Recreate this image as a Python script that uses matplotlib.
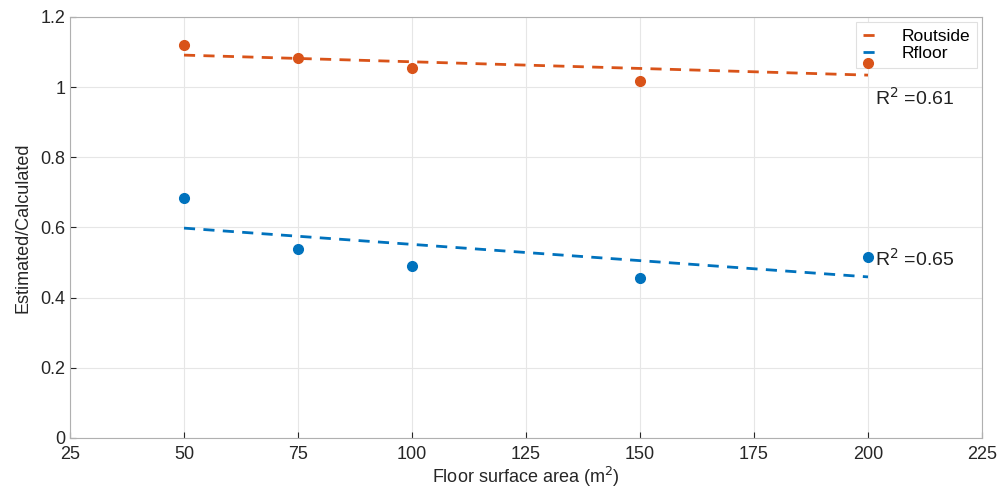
import matplotlib
matplotlib.use('Agg')
import matplotlib.pyplot as plt
import numpy as np

# Data
area = [50, 75, 100, 150, 200]
r_outside = [1.12, 1.083, 1.054, 1.017, 1.068]
r_floor = [0.684, 0.538, 0.490, 0.456, 0.516]
fit_x = [50, 200]
fit_outside = [1.091, 1.034]
fit_floor = [0.598, 0.459]

orange = '#D95319'
blue = '#0072BD'

plt.rcParams['font.family'] = ['Liberation Sans', 'DejaVu Sans']

fig = plt.figure(figsize=(10, 4.96), dpi=100)
ax = fig.add_axes([0.07, 0.117, 0.912, 0.849])

ax.plot(fit_x, fit_outside, '--', color=orange, linewidth=2, dashes=(4, 3), label='Routside', zorder=3)
ax.plot(fit_x, fit_floor, '--', color=blue, linewidth=2, dashes=(4, 3), label='Rfloor', zorder=3)
ax.plot(area, r_outside, 'o', color=orange, markersize=7, zorder=6)
ax.plot(area, r_floor, 'o', color=blue, markersize=7, zorder=6)

ax.text(201.5, 0.95, r'R$^2$ =0.61', fontsize=14, color='#222222')
ax.text(201.5, 0.49, r'R$^2$ =0.65', fontsize=14, color='#222222')

ax.set_xlim(25, 225)
ax.set_ylim(0, 1.2)
ax.set_xticks(np.arange(25, 226, 25))
ax.set_yticks([0, 0.2, 0.4, 0.6, 0.8, 1, 1.2])
ax.set_yticklabels(['0', '0.2', '0.4', '0.6', '0.8', '1', '1.2'])
ax.grid(True, color='#e6e6e6', linewidth=0.8)
ax.set_axisbelow(True)
ax.tick_params(labelsize=13, colors='#262626', direction='in', length=4)
ax.tick_params(axis='x', pad=6)
for s in ax.spines.values():
    s.set_color('#b0b0b0')

ax.set_xlabel(r'Floor surface area (m$^2$)', fontsize=13, color='#262626', labelpad=1)
ax.set_ylabel('Estimated/Calculated', fontsize=13, color='#262626', labelpad=6)

leg = ax.legend(loc='upper right', fontsize=12.5, handlelength=1.0, frameon=True,
                fancybox=False, borderaxespad=0.3, handletextpad=1.2, labelspacing=0.1,
                framealpha=1)
leg.get_frame().set_edgecolor('#e0e0e0')
leg.get_frame().set_linewidth(0.8)
leg.set_zorder(4)

plt.savefig('out.png', dpi=100)
